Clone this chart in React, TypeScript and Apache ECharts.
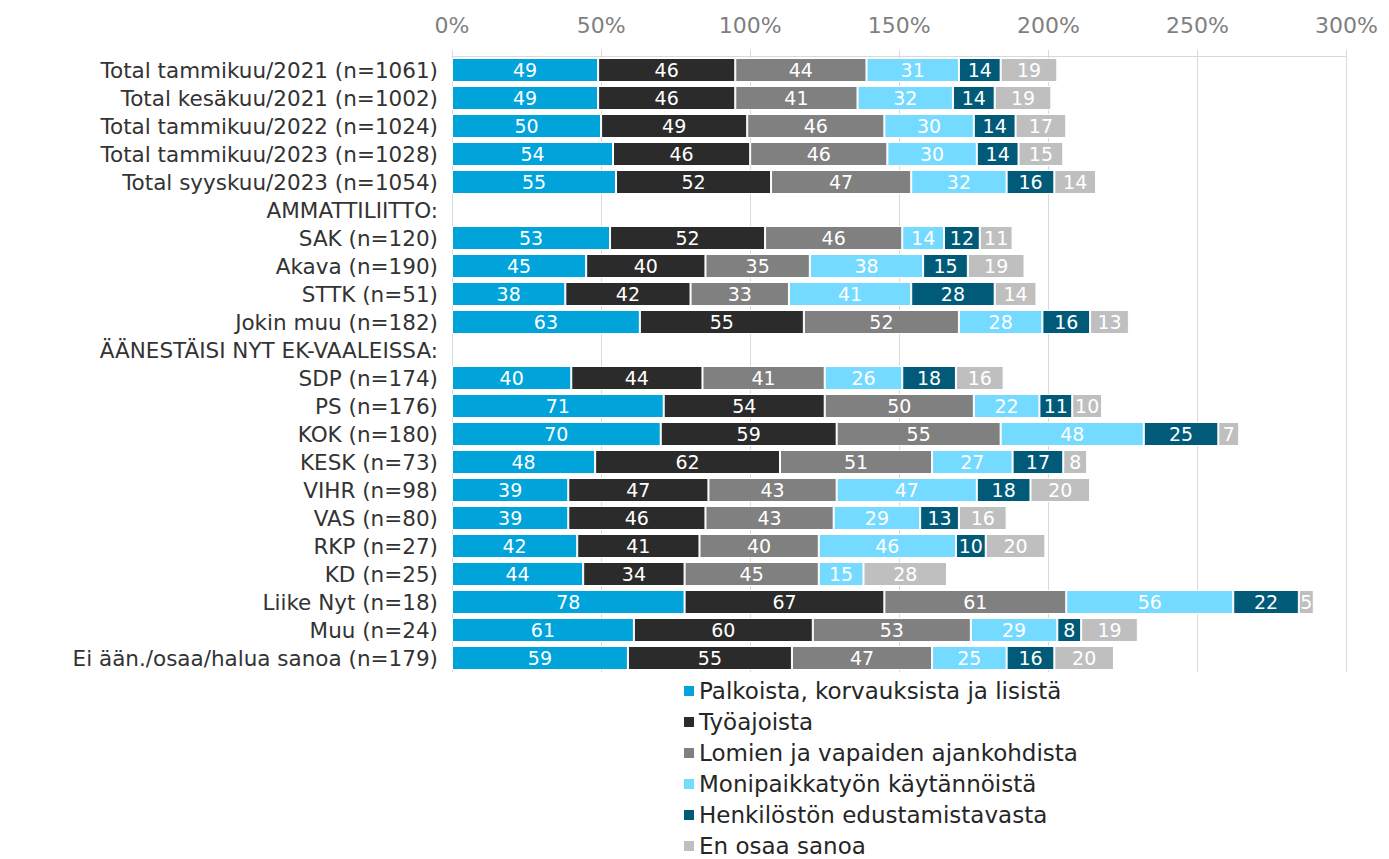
import React, { useEffect, useRef } from "react";
import * as echarts from "echarts";

const categories = [
  "Total tammikuu/2021 (n=1061)",
  "Total kesäkuu/2021 (n=1002)",
  "Total tammikuu/2022 (n=1024)",
  "Total tammikuu/2023 (n=1028)",
  "Total syyskuu/2023 (n=1054)",
  "AMMATTILIITTO:",
  "SAK (n=120)",
  "Akava (n=190)",
  "STTK (n=51)",
  "Jokin muu (n=182)",
  "ÄÄNESTÄISI NYT EK-VAALEISSA:",
  "SDP (n=174)",
  "PS (n=176)",
  "KOK (n=180)",
  "KESK (n=73)",
  "VIHR (n=98)",
  "VAS (n=80)",
  "RKP (n=27)",
  "KD (n=25)",
  "Liike Nyt (n=18)",
  "Muu (n=24)",
  "Ei ään./osaa/halua sanoa (n=179)",
];

const seriesNames = [
  "Palkoista, korvauksista ja lisistä",
  "Työajoista",
  "Lomien ja vapaiden ajankohdista",
  "Monipaikkatyön käytännöistä",
  "Henkilöstön edustamistavasta",
  "En osaa sanoa",
];

const palkoista = [49, 49, 50, 54, 55, null, 53, 45, 38, 63, null, 40, 71, 70, 48, 39, 39, 42, 44, 78, 61, 59];
const tyoajoista = [46, 46, 49, 46, 52, null, 52, 40, 42, 55, null, 44, 54, 59, 62, 47, 46, 41, 34, 67, 60, 55];
const lomien = [44, 41, 46, 46, 47, null, 46, 35, 33, 52, null, 41, 50, 55, 51, 43, 43, 40, 45, 61, 53, 47];
const monipaikka = [31, 32, 30, 30, 32, null, 14, 38, 41, 28, null, 26, 22, 48, 27, 47, 29, 46, 15, 56, 29, 25];
const henkilosto = [14, 14, 14, 14, 16, null, 12, 15, 28, 16, null, 18, 11, 25, 17, 18, 13, 10, null, 22, 8, 16];
const enOsaa = [19, 19, 17, 15, 14, null, 11, 19, 14, 13, null, 16, 10, 7, 8, 20, 16, 20, 28, 5, 19, 20];

const seriesValues = [palkoista, tyoajoista, lomien, monipaikka, henkilosto, enOsaa];
const colors = ["#00A3DA", "#2B2B2B", "#808080", "#75DAFF", "#005A78", "#BFBFBF"];

const xTicks = [0, 50, 100, 150, 200, 250, 300];

const FONT = "DejaVu Sans, Verdana, sans-serif";

export default function App() {
  const ref = useRef<HTMLDivElement>(null);
  useEffect(() => {
    if (!ref.current) return;
    const chart = echarts.init(ref.current, null, { renderer: "svg" });
    chart.setOption({
      animation: false,
      textStyle: { fontFamily: FONT },
      grid: { left: 444, right: 29, top: 48, bottom: 187, containLabel: false },
      xAxis: {
        type: "value",
        position: "top",
        min: xTicks[0],
        max: xTicks[xTicks.length - 1],
        interval: 50,
        axisLabel: {
          formatter: (v: number) => v + "%",
          color: "#7F7F7F",
          fontSize: 22,
          margin: 20,
          fontFamily: FONT,
        },
        axisLine: { show: true, lineStyle: { color: "#D9D9D9", width: 1 } },
        axisTick: { show: true, length: 6, lineStyle: { color: "#D9D9D9" } },
        splitLine: { show: true, lineStyle: { color: "#D9D9D9", width: 1 } },
      },
      yAxis: {
        type: "category",
        data: categories,
        inverse: true,
        axisLabel: { interval: 0, color: "#333333", fontSize: 21.5, margin: 14, fontFamily: FONT },
        axisLine: { show: true, lineStyle: { color: "#D9D9D9" } },
        axisTick: { show: false },
      },
      legend: {
        orient: "vertical",
        left: 669,
        top: 666,
        height: 200,
        itemWidth: 12,
        itemHeight: 12,
        itemGap: 7,
        icon: "rect",
        textStyle: { fontSize: 23, lineHeight: 24, color: "#262626", fontFamily: FONT, padding: [0, 0, 0, -1] },
        data: seriesNames,
      },
      series: seriesNames.map((name, i) => ({
        name,
        type: "bar",
        stack: "total",
        barWidth: 24,
        data: seriesValues[i],
        itemStyle: { color: colors[i], borderColor: "#FFFFFF", borderWidth: 1 },
        label: {
          show: true,
          position: "inside",
          color: "#FFFFFF",
          fontSize: 19,
          fontFamily: FONT,
          formatter: (p: any) => (p.value == null ? "" : String(p.value)),
        },
      })),
    });
    return () => chart.dispose();
  }, []);
  return <div ref={ref} style={{ width: 1373, height: 851 }} />;
}
